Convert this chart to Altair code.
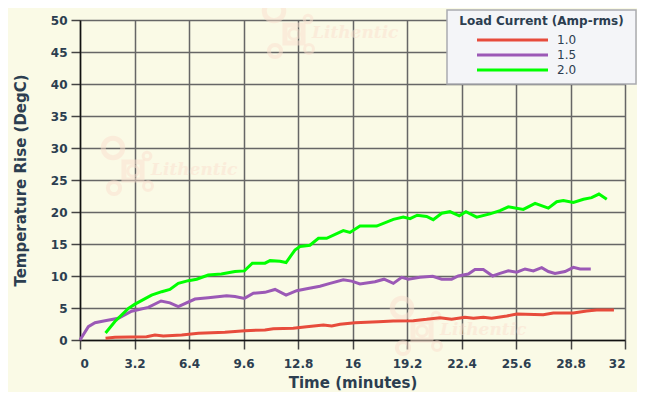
import altair as alt
import pandas as pd

# ---- data ----
series_names = ["1.0", "1.5", "2.0"]
series_colors = ["#e74c3c", "#9b59b6", "#00ff00"]

t_10 = [1.5, 2.05, 3.91, 4.4, 4.89, 5.97, 6.95, 8.51, 9.69, 10.86, 11.35, 12.52, 13.31, 14.29, 14.78,
        15.27, 16.15, 17.52, 18.4, 19.57, 20.35, 21.14, 21.82, 22.6, 23.1, 23.68, 24.17, 25.06, 25.64,
        27.2, 27.79, 28.97, 29.75, 30.33, 31.35]
v_10 = [0.26, 0.42, 0.52, 0.78, 0.62, 0.78, 1.04, 1.2, 1.46, 1.56, 1.77, 1.82, 2.08, 2.34, 2.19,
        2.45, 2.7, 2.86, 2.97, 3.02, 3.23, 3.49, 3.23, 3.54, 3.39, 3.54, 3.39, 3.75, 4.06,
        3.96, 4.22, 4.22, 4.53, 4.69, 4.69]

t_15 = [0, 0.49, 0.88, 1.47, 2.25, 3.03, 4.01, 4.76, 5.28, 5.77, 6.75, 7.53, 8.61, 9.1, 9.65, 10.18,
        10.86, 11.45, 12.1, 12.72, 13.31, 14.09, 14.68, 15.46, 15.95, 16.44, 17.32, 17.85, 18.4, 18.89,
        19.28, 19.96, 20.71, 21.24, 21.82, 22.21, 22.8, 23.19, 23.68, 24.23, 24.66, 25.15, 25.64, 26.13,
        26.62, 27.11, 27.5, 27.89, 28.48, 28.97, 29.36, 29.99]
v_15 = [0, 2.08, 2.7, 3.0, 3.4, 4.5, 5.1, 6.1, 5.8, 5.2, 6.4, 6.6, 6.9, 6.8, 6.5, 7.3,
        7.45, 7.9, 7.0, 7.7, 8.0, 8.4, 8.85, 9.4, 9.2, 8.75, 9.1, 9.5, 8.85, 9.8,
        9.5, 9.8, 9.95, 9.5, 9.5, 10.0, 10.3, 11.0, 11.0, 10.0, 10.4, 10.8, 10.6, 11.1,
        10.8, 11.3, 10.7, 10.4, 10.7, 11.35, 11.1, 11.1]

t_20 = [1.5, 2.05, 2.84, 3.23, 4.2, 4.8, 5.28, 5.77, 6.36, 6.85, 7.53, 8.3, 9.1, 9.65, 10.12, 10.86,
        11.16, 11.74, 12.1, 12.62, 12.92, 13.5, 14.0, 14.48, 15.46, 15.85, 16.44, 17.42, 18.4, 18.98,
        19.38, 19.8, 20.35, 20.74, 21.24, 21.72, 22.27, 22.66, 23.29, 24.07, 24.66, 25.15, 26.03, 26.72,
        27.5, 27.99, 28.38, 28.97, 29.56, 30.04, 30.47, 30.93]
v_20 = [1.1, 2.9, 4.95, 5.6, 7.0, 7.55, 7.9, 8.85, 9.27, 9.5, 10.15, 10.3, 10.7, 10.8, 12.0, 12.0,
        12.4, 12.3, 12.1, 14.06, 14.6, 14.8, 15.9, 15.9, 17.1, 16.8, 17.8, 17.8, 18.85, 19.2,
        18.95, 19.5, 19.3, 18.8, 19.8, 20.05, 19.4, 20.05, 19.2, 19.7, 20.2, 20.8, 20.4, 21.35,
        20.6, 21.6, 21.8, 21.5, 22.0, 22.25, 22.8, 22.0]

x_ticks = [0, 3.2, 6.4, 9.6, 12.8, 16, 19.2, 22.4, 25.6, 28.8, 32]
y_ticks = [0, 5, 10, 15, 20, 25, 30, 35, 40, 45, 50]

legend_title = "Load Current (Amp-rms)"
x_title = "Time (minutes)"
y_title = "Temperature Rise (DegC)"
watermark = "Lithentic"

# ---- build table ----
rows = []
for name, ts, vs in [("1.0", t_10, v_10), ("1.5", t_15, v_15), ("2.0", t_20, v_20)]:
    for i, (t, v) in enumerate(zip(ts, vs)):
        rows.append({"current": name, "t": t, "v": v, "i": i})
df = pd.DataFrame(rows)

BG = "#fafae6"
TXT = "#2c3e50"
WM = "#fbe0cf"
W, H = 545, 320

lines = alt.Chart(df).mark_line(strokeWidth=3).encode(
    x=alt.X("t:Q", title=x_title,
            scale=alt.Scale(domain=[0, 32], nice=False, zero=False),
            axis=alt.Axis(values=x_ticks, labelExpr="'' + datum.value")),
    y=alt.Y("v:Q", title=y_title,
            scale=alt.Scale(domain=[0, 50], nice=False),
            axis=alt.Axis(values=y_ticks)),
    color=alt.Color("current:N", scale=alt.Scale(domain=series_names, range=series_colors), legend=None),
    order="i:Q",
)

one = pd.DataFrame({"a": [0]})
layers = []

# faint watermarks (decoration)
for (tx, ty) in [(232, 18), (71, 155), (360, 315)]:
    bx, by = tx - 38, ty - 27
    layers.append(alt.Chart(one).mark_text(text=watermark, font="DejaVu Serif", fontStyle="italic",
                                           fontWeight="bold", fontSize=17, align="left", baseline="alphabetic",
                                           color=WM, opacity=0.5)
                  .encode(x=alt.value(tx), y=alt.value(ty)))
    for dx, dy, size, shape, sw in [(0, 0, 380, "circle", 5), (34, 8, 60, "circle", 3),
                                    (20, 23, 330, "square", 5), (20, 23, 110, "circle", 3),
                                    (1, 40, 150, "circle", 4), (35, 38, 80, "circle", 3)]:
        layers.append(alt.Chart(one).mark_point(shape=shape, filled=False, size=size, strokeWidth=sw,
                                                color=WM, opacity=0.5)
                      .encode(x=alt.value(bx + dx), y=alt.value(by + dy)))

layers.append(lines)

# legend box (manual)
lx0, ly0, lx1, ly1 = 367, -10, 556, 64
layers.append(alt.Chart(one).mark_rect(fill="#f4f5f8", stroke="#a9abb0", strokeWidth=1.5).encode(
    x=alt.value(lx0), x2=alt.value(lx1), y=alt.value(ly0), y2=alt.value(ly1)))
layers.append(alt.Chart(one).mark_text(text=legend_title, font="DejaVu Sans", fontWeight="bold",
                                       fontSize=12, color=TXT, align="center", baseline="middle")
              .encode(x=alt.value((lx0 + lx1) / 2), y=alt.value(ly0 + 11)))
for k, (name, col) in enumerate(zip(series_names, series_colors)):
    yy = ly0 + 30 + 15 * k
    layers.append(alt.Chart(one).mark_rule(color=col, strokeWidth=3).encode(
        x=alt.value(lx0 + 30), x2=alt.value(lx0 + 101), y=alt.value(yy)))
    layers.append(alt.Chart(one).mark_text(text=name, font="DejaVu Sans", fontSize=12, color=TXT,
                                           align="left", baseline="middle")
                  .encode(x=alt.value(lx0 + 110), y=alt.value(yy)))

chart = alt.layer(*layers).properties(
    width=W, height=H,
    autosize=alt.AutoSizeParams(type="none"),
    padding={"left": 72, "top": 12, "right": 12, "bottom": 52},
    background=BG,
).configure_view(fill=BG, strokeWidth=0).configure_axis(
    grid=True, gridColor="#666666", gridWidth=1.5,
    domainColor="#111111", domainWidth=1.5,
    tickColor="#444444", tickWidth=1.5, tickSize=9,
    labelFont="DejaVu Sans", labelFontSize=12, labelFontWeight="bold", labelColor=TXT,
    titleFont="DejaVu Sans", titleFontSize=15, titleFontWeight="bold", titleColor=TXT,
).configure_axisX(labelPadding=9, titlePadding=6, domain=True).configure_axisY(
    labelPadding=4, titlePadding=22)

chart.save("out.html", embed_options={"renderer": "svg", "actions": False})
